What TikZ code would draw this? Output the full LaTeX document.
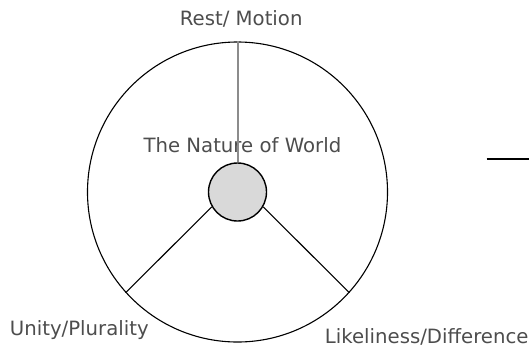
\documentclass[tikz,border=0pt]{standalone}
\usepackage{fontspec}
\setmainfont{DejaVu Sans}
\usepackage{tikz}
\usepackage{xcolor}
\definecolor{hubfill}{HTML}{D9D9D9}
\definecolor{spoke}{HTML}{8C8C8C}
\definecolor{labeltext}{HTML}{4D4D4D}

\begin{document}
\begin{tikzpicture}[x=1pt, y=-1pt,
    label/.style={anchor=base, inner sep=0pt, text=labeltext,
          font=\fontsize{19.7}{22}\selectfont}]
    \useasboundingbox (0,0) rectangle (529,349);
    \node[draw, circle, line width=1.1pt, minimum size=300pt, inner sep=0pt] (world) at (237.5,192) {};
    \node[draw, circle, line width=1.4pt, fill=hubfill, minimum size=58pt, inner sep=0pt] (hub) at (237.5,192) {};
    \node[label] (title) at (242.4,152.8) {The Nature of World};
    \draw[spoke, line width=2pt] (hub.north) -- (world.north);
    \draw[line width=1.1pt] (hub.210) -- (world.222);
    \draw[line width=1.1pt] (hub.330) -- (world.318);
    \node[label] (rest) at (241.2,25) {Rest/ Motion};
    \node[label] (unity) at (79.3,335) {Unity/Plurality};
    \node[label] (like) at (426.7,343.3) {Likeliness/Difference};
    \draw[line width=2.5pt] (486.7,159) -- (529,159);
\end{tikzpicture}
\end{document}
